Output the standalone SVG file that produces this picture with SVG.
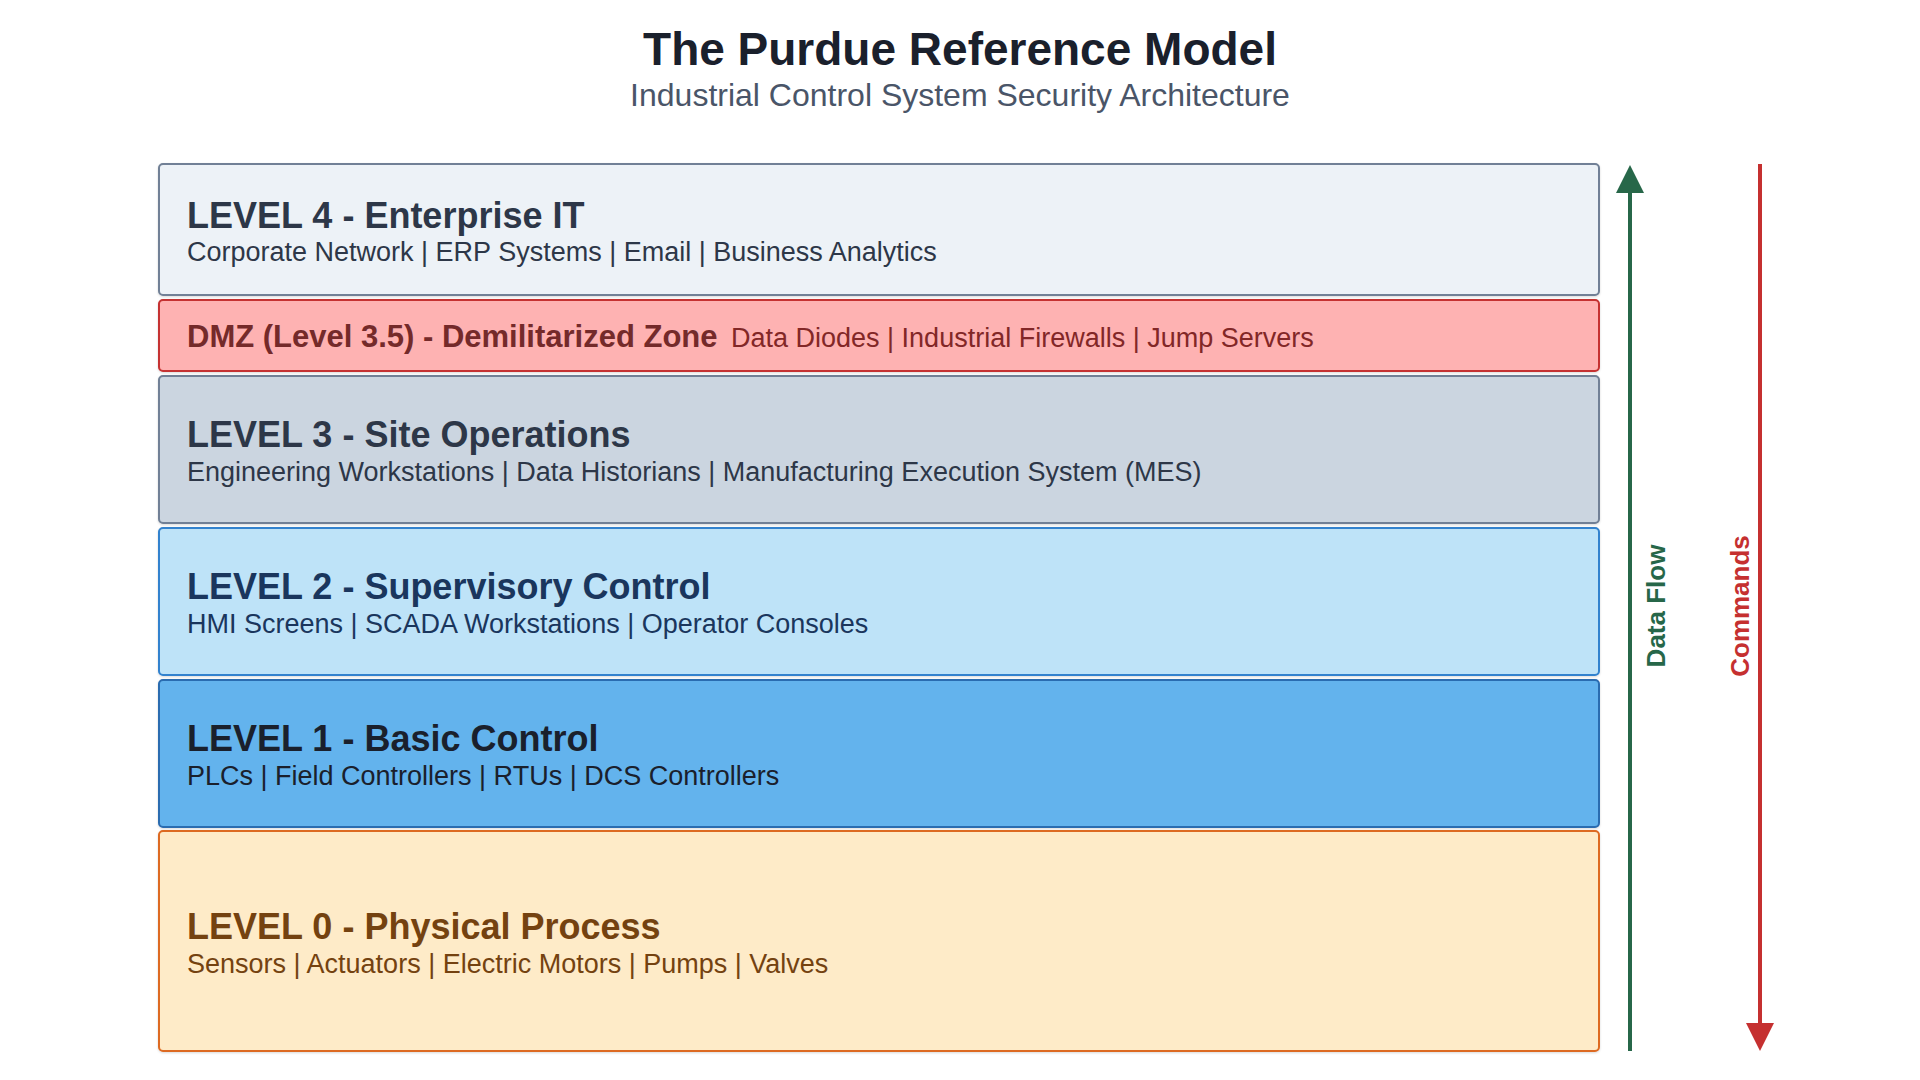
<svg xmlns="http://www.w3.org/2000/svg" width="1920" height="1080" viewBox="0 0 1920 1080">
  <style>
    text { font-family: "Liberation Sans", Arial, sans-serif; }
    .title { font-size: 46px; font-weight: bold; fill: #1a202c; text-anchor: middle; }
    .subtitle { font-size: 32px; fill: #4a5568; text-anchor: middle; }
    .box { stroke-width: 2; filter: url(#shadow); }
    .lt { font-size: 36px; font-weight: bold; }
    .ls { font-size: 27px; }
    .side { font-size: 26px; font-weight: bold; text-anchor: middle; }
  </style>
  <defs>
    <filter id="shadow" x="-5%" y="-10%" width="110%" height="130%">
      <feDropShadow dx="0" dy="1" stdDeviation="1" flood-color="#000000" flood-opacity="0.15"/>
    </filter>
    <marker id="headG" viewBox="0 0 28 28" markerWidth="28" markerHeight="28" markerUnits="userSpaceOnUse" refX="0" refY="14" orient="auto">
      <path d="M0,0 L28,14 L0,28 Z" fill="#276749"/>
    </marker>
    <marker id="headR" viewBox="0 0 28 28" markerWidth="28" markerHeight="28" markerUnits="userSpaceOnUse" refX="0" refY="14" orient="auto">
      <path d="M0,0 L28,14 L0,28 Z" fill="#c53030"/>
    </marker>
  </defs>
  <rect width="1920" height="1080" fill="#ffffff"/>

  <g id="header">
    <text class="title" x="960" y="65">The Purdue Reference Model</text>
    <text class="subtitle" x="960" y="106">Industrial Control System Security Architecture</text>
  </g>

  <g id="level4">
    <rect class="box" x="159" y="164" width="1440" height="131" rx="4" fill="#edf2f7" stroke="#718096"/>
    <text class="lt" x="187" y="228" fill="#2d3748">LEVEL 4 - Enterprise IT</text>
    <text class="ls" x="187" y="261" fill="#2d3748">Corporate Network | ERP Systems | Email | Business Analytics</text>
  </g>

  <g id="dmz">
    <rect class="box" x="159" y="300" width="1440" height="71" rx="4" fill="#feb2b2" stroke="#c53030"/>
    <text x="187" y="347" fill="#742a2a" style="font-size:31px;font-weight:bold">DMZ (Level 3.5) - Demilitarized Zone</text>
    <text class="ls" x="731" y="347" fill="#822727">Data Diodes | Industrial Firewalls | Jump Servers</text>
  </g>

  <g id="level3">
    <rect class="box" x="159" y="376" width="1440" height="147" rx="4" fill="#cbd5e0" stroke="#718096"/>
    <text class="lt" x="187" y="447" fill="#2d3748">LEVEL 3 - Site Operations</text>
    <text class="ls" x="187" y="481" fill="#2d3748">Engineering Workstations | Data Historians | Manufacturing Execution System (MES)</text>
  </g>

  <g id="level2">
    <rect class="box" x="159" y="528" width="1440" height="147" rx="4" fill="#bee3f8" stroke="#3182ce"/>
    <text class="lt" x="187" y="599" fill="#1a365d">LEVEL 2 - Supervisory Control</text>
    <text class="ls" x="187" y="633" fill="#1a365d">HMI Screens | SCADA Workstations | Operator Consoles</text>
  </g>

  <g id="level1">
    <rect class="box" x="159" y="680" width="1440" height="147" rx="4" fill="#63b3ed" stroke="#2b6cb0"/>
    <text class="lt" x="187" y="751" fill="#1a202c">LEVEL 1 - Basic Control</text>
    <text class="ls" x="187" y="785" fill="#1a202c">PLCs | Field Controllers | RTUs | DCS Controllers</text>
  </g>

  <g id="level0">
    <rect class="box" x="159" y="831" width="1440" height="220" rx="4" fill="#feebc8" stroke="#dd6b20"/>
    <text class="lt" x="187" y="939" fill="#744210">LEVEL 0 - Physical Process</text>
    <text class="ls" x="187" y="973" fill="#744210">Sensors | Actuators | Electric Motors | Pumps | Valves</text>
  </g>

  <g id="connectors">
    <line x1="1630" y1="1051" x2="1630" y2="193" stroke="#276749" stroke-width="4" marker-end="url(#headG)"/>
    <line x1="1760" y1="164" x2="1760" y2="1023" stroke="#c53030" stroke-width="4" marker-end="url(#headR)"/>
    <text class="side" transform="translate(1665,606) rotate(-90)" fill="#276749">Data Flow</text>
    <text class="side" transform="translate(1749,606) rotate(-90)" fill="#c53030">Commands</text>
  </g>
</svg>
